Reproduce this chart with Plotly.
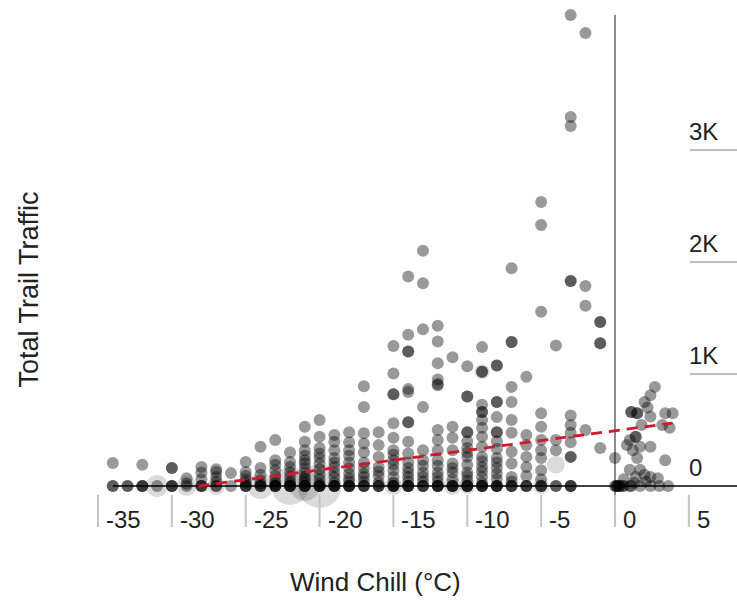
import plotly.graph_objects as go

# ---------------- data ----------------
# Wind chill columns (integer °C) and traffic values for each column
col_x = [-34, -33, -32, -31, -30, -29, -28, -27, -26, -25, -24, -23, -22, -21, -20,
         -19, -18, -17, -16, -15, -14, -13, -12, -11, -10, -9, -8, -7, -6, -5, -4,
         -3, -2, -1, 0]
col_y = [
    [0, 0, 205],
    [0, 0],
    [0, 0, 0, 190],
    [0],
    [0, 0, 0, 160, 160],
    [0, 20, 70],
    [0, 0, 0, 60, 120, 170],
    [0, 0, 40, 80, 125, 150],
    [0, 115],
    [0, 0, 0, 30, 55, 90, 125, 215],
    [0, 0, 0, 20, 50, 100, 160, 350],
    [0, 0, 0, 0, 25, 50, 90, 140, 190, 230, 410],
    [0, 0, 0, 0, 20, 40, 80, 120, 170, 215, 300],
    [0, 0, 0, 0, 30, 60, 80, 120, 160, 200, 230, 270, 320, 395, 530],
    [0, 0, 0, 0, 20, 60, 100, 150, 200, 250, 290, 340, 440, 590],
    [0, 0, 0, 0, 30, 80, 120, 170, 210, 250, 320, 395, 455],
    [0, 0, 0, 0, 40, 70, 110, 160, 210, 270, 320, 390, 480],
    [0, 0, 0, 40, 80, 110, 160, 210, 300, 380, 470, 705, 890],
    [0, 0, 0, 30, 90, 130, 170, 260, 365, 480],
    [0, 0, 0, 0, 30, 80, 140, 190, 230, 280, 320, 430, 560, 820, 820, 1005, 1250],
    [0, 0, 0, 0, 40, 80, 120, 160, 210, 290, 395, 570, 570, 840, 865, 1200, 1200, 1350, 1870],
    [0, 0, 0, 40, 80, 120, 180, 230, 320, 705, 1400, 1810, 2100],
    [0, 0, 0, 0, 40, 80, 120, 180, 230, 320, 410, 500, 900, 910, 950, 1095, 1290, 1430],
    [0, 0, 0, 0, 60, 120, 160, 200, 320, 430, 530, 1150],
    [0, 0, 0, 0, 50, 90, 120, 190, 260, 300, 340, 400, 480, 480, 800, 800, 1070],
    [0, 0, 0, 0, 30, 80, 130, 170, 220, 260, 350, 440, 520, 590, 660, 660, 725, 1020, 1020, 1240],
    [0, 0, 0, 0, 60, 110, 160, 210, 250, 330, 400, 480, 480, 615, 750, 750, 1075, 1075],
    [0, 0, 0, 40, 80, 200, 305, 475, 590, 750, 885, 1285, 1285, 1945],
    [0, 0, 0, 90, 170, 260, 365, 455, 975],
    [0, 0, 0, 60, 140, 250, 320, 410, 530, 650, 1555, 2330, 2535],
    [0, 0, 320, 410, 1255],
    [0, 0, 0, 260, 260, 390, 475, 545, 630, 1830, 1830, 3215, 3295, 4205],
    [500, 1610, 1785, 4045],
    [340, 1275, 1275, 1465, 1465],
    [0, 250],
]

# Points above freezing (not on integer columns)
warm_x = [0.1, 0.1, 0.2, 0.3, 0.3, 0.5, 0.6, 1.0, 1.1, 1.7, 2.4, 3.0, 3.6,
          2.7, 2.4, 2.0, 2.2, 1.1, 1.1, 1.5, 1.5, 3.9, 3.4, 2.4, 1.8, 3.2, 3.7,
          1.0, 1.4, 1.4, 1.7, 0.8, 1.2, 2.4, 1.5, 3.4, 1.0, 1.7, 1.4, 2.4, 2.9,
          0.6, 2.0, 1.3, 2.1]
warm_y = [0, 0, 0, 0, 0, 0, 0, 0, 0, 0, 0, 0, 0,
          885, 810, 750, 700, 660, 660, 650, 650, 650, 650, 620, 545, 545, 520,
          410, 440, 440, 350, 365, 320, 350, 250, 230, 145, 145, 80, 80, 70,
          60, 100, 30, 40]

# Larger (bigger-sized) observations
big_x = [-31, -29, -27, -24, -22, -21, -20, -15, -11, -10, -5, -4, -9]
big_y = [0, 0, 0, 0, 0, 0, 0, 0, 0, 0, 0, 190, 1020]
big_size = [22, 20, 18, 26, 38, 30, 44, 18, 18, 16, 16, 18, 15]

# Trend line
trend_x = [-28.2, 3.9]
trend_y = [0, 562]

# Axis ticks
x_ticks = [-35, -30, -25, -20, -15, -10, -5, 0, 5]
y_ticks = [0, 1000, 2000, 3000]
y_tick_labels = ["0", "1K", "2K", "3K"]

X_RANGE = [-36.22, 8.26]
Y_RANGE = [-437.5, 4250]

# ---------------- build ----------------
pts_x, pts_y = [], []
for cx, ys in zip(col_x, col_y):
    for v in ys:
        pts_x.append(cx)
        pts_y.append(v)
pts_x += warm_x
pts_y += warm_y

FONT = "Liberation Sans, Arial, Helvetica, sans-serif"

fig = go.Figure()
fig.add_trace(go.Scatter(
    x=big_x, y=big_y, mode="markers",
    marker=dict(size=big_size, color="rgba(0,0,0,0.2)", line=dict(width=0)),
    hoverinfo="skip", showlegend=False, cliponaxis=False))
fig.add_trace(go.Scatter(
    x=pts_x, y=pts_y, mode="markers",
    marker=dict(size=12, color="rgba(0,0,0,0.4)", line=dict(width=0)),
    showlegend=False, cliponaxis=False))
fig.add_trace(go.Scatter(
    x=trend_x, y=trend_y, mode="lines",
    line=dict(color="#d0182f", width=2.8, dash="11px,7px"),
    hoverinfo="skip", showlegend=False))

shapes = []
# baseline (y = 0)
shapes.append(dict(type="line", xref="x", yref="y", x0=min(pts_x), x1=X_RANGE[1],
                   y0=0, y1=0, line=dict(color="black", width=1.5), layer="below"))
# vertical axis at 0 °C
shapes.append(dict(type="line", xref="x", yref="y", x0=0, x1=0,
                   y0=-98, y1=max(pts_y), line=dict(color="#8a8a8a", width=2), layer="below"))
annotations = []
for t in x_ticks:
    shapes.append(dict(type="line", xref="x", yref="y", x0=t, x1=t, y0=-80, y1=-366,
                       line=dict(color="#c4c4c4", width=2)))
    annotations.append(dict(x=t, y=-300, xref="x", yref="y", text=str(t),
                            showarrow=False, xanchor="left", yanchor="middle", xshift=6,
                            font=dict(family=FONT, size=24, color="#222")))
for t, lab in zip(y_ticks, y_tick_labels):
    if t != 0:
        shapes.append(dict(type="line", xref="x", yref="y", x0=5.08, x1=X_RANGE[1],
                           y0=t, y1=t, line=dict(color="#a8a8a8", width=1.5)))
    annotations.append(dict(x=5.08, y=t, xref="x", yref="y", text=lab, showarrow=False,
                            xanchor="left", yanchor="middle", yshift=19, xshift=-3,
                            font=dict(family=FONT, size=24, color="#222")))

annotations.append(dict(x=-0.078, y=0.467, xref="paper", yref="paper", text="Total Trail Traffic",
                        showarrow=False, textangle=-90, xanchor="center", yanchor="middle",
                        font=dict(family=FONT, size=27, color="#222")))
annotations.append(dict(x=0.45, y=-0.0895, xref="paper", yref="paper", text="Wind Chill (°C)",
                        showarrow=False, xanchor="center", yanchor="middle",
                        font=dict(family=FONT, size=26, color="#222")))

fig.update_layout(
    width=737, height=605,
    margin=dict(l=80, r=0, t=10, b=70),
    paper_bgcolor="white", plot_bgcolor="white",
    xaxis=dict(range=X_RANGE, visible=False),
    yaxis=dict(range=Y_RANGE, visible=False),
    shapes=shapes, annotations=annotations,
    font=dict(family=FONT),
)
fig.write_html("out.html", config={"displayModeBar": False},
               post_script="document.body.style.margin='0px';")
